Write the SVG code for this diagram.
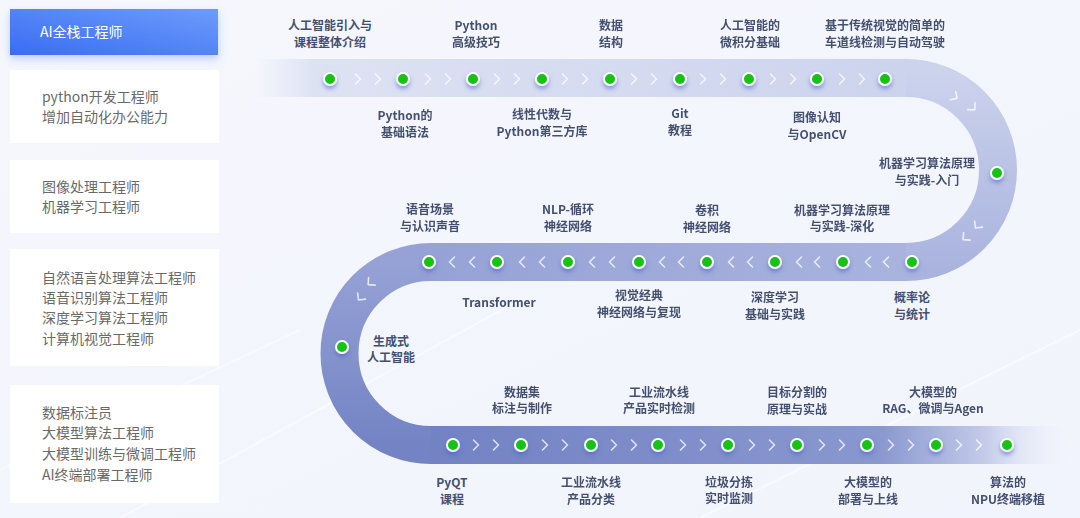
<svg xmlns="http://www.w3.org/2000/svg" width="1080" height="518" viewBox="0 0 1080 518">
<defs>
<style>
.card{fill:#ffffff;}
.ct{font-family:"Noto Sans CJK SC","Liberation Sans",sans-serif;font-size:14px;fill:#6a6a6a;}
.lb{font-family:"Noto Sans CJK SC","Liberation Sans",sans-serif;font-size:12px;font-weight:600;fill:#44506f;text-anchor:middle;}
.dot{fill:#14c214;stroke:#ffffff;stroke-width:2;filter:url(#dsh);}
.chev{fill:none;stroke:#ffffff;stroke-width:1.6;stroke-linecap:round;stroke-linejoin:round;opacity:0.75;}
.band{fill:none;stroke-width:38;}
</style>
<linearGradient id="bg" x1="0" y1="0" x2="1" y2="1">
<stop offset="0" stop-color="#f6f7fd"/><stop offset="1" stop-color="#f1f4fc"/>
</linearGradient>
<linearGradient id="gCard1" x1="0" y1="1" x2="1" y2="0">
<stop offset="0" stop-color="#3a6cf4"/><stop offset="1" stop-color="#6c9cfa"/>
</linearGradient>
<linearGradient id="gTop" gradientUnits="userSpaceOnUse" x1="255" y1="0" x2="906" y2="0">
<stop offset="0" stop-color="#dfe4f4" stop-opacity="0"/><stop offset="0.09" stop-color="#dde2f3"/><stop offset="1" stop-color="#ccd3ed"/>
</linearGradient>
<linearGradient id="gR" gradientUnits="userSpaceOnUse" x1="0" y1="70" x2="0" y2="270">
<stop offset="0" stop-color="#ccd3ed"/><stop offset="1" stop-color="#a9b3de"/>
</linearGradient>
<linearGradient id="gMid" gradientUnits="userSpaceOnUse" x1="906" y1="0" x2="431" y2="0">
<stop offset="0" stop-color="#a9b3de"/><stop offset="1" stop-color="#96a2d6"/>
</linearGradient>
<linearGradient id="gL" gradientUnits="userSpaceOnUse" x1="0" y1="262" x2="0" y2="445">
<stop offset="0" stop-color="#96a2d6"/><stop offset="1" stop-color="#7383c4"/>
</linearGradient>
<linearGradient id="gBot" gradientUnits="userSpaceOnUse" x1="431" y1="0" x2="1075" y2="0">
<stop offset="0" stop-color="#7282c3"/><stop offset="0.7" stop-color="#8a98d0"/><stop offset="0.86" stop-color="#c3cbea"/><stop offset="1" stop-color="#f4f6fc" stop-opacity="0"/>
</linearGradient>
<filter id="dsh" x="-100%" y="-100%" width="300%" height="300%">
<feDropShadow dx="0" dy="3" stdDeviation="2" flood-color="#4a5fc8" flood-opacity="0.55"/>
</filter>
<filter id="csh" x="-20%" y="-50%" width="140%" height="220%">
<feDropShadow dx="0" dy="4" stdDeviation="4" flood-color="#3a6cf4" flood-opacity="0.3"/>
</filter>
<path id="cv" d="M-2.5,-5 L2.5,0 L-2.5,5"/>
</defs>

<rect width="1080" height="518" fill="url(#bg)"/>
<g opacity="0.5" fill="none" stroke="#ffffff" stroke-width="2">
<path d="M0 470 L300 330"/>
<path d="M120 518 L520 300"/>
<path d="M700 518 L1080 330"/>
</g>

<g id="cards">
<g id="card1"><rect x="10" y="9" width="208" height="46" fill="url(#gCard1)" filter="url(#csh)"/><text x="40" y="37" style="font-family:'Noto Sans CJK SC','Liberation Sans',sans-serif;font-size:14px;fill:#ffffff;">AI全栈工程师</text></g>
<g id="card2"><rect class="card" x="10" y="70" width="209" height="73"/><text class="ct" x="42" y="102">python开发工程师</text><text class="ct" x="42" y="122">增加自动化办公能力</text></g>
<g id="card3"><rect class="card" x="10" y="160" width="209" height="73"/><text class="ct" x="42" y="192">图像处理工程师</text><text class="ct" x="42" y="212">机器学习工程师</text></g>
<g id="card4"><rect class="card" x="10" y="249" width="209" height="117"/><text class="ct" x="42" y="283">自然语言处理算法工程师</text><text class="ct" x="42" y="303">语音识别算法工程师</text><text class="ct" x="42" y="323">深度学习算法工程师</text><text class="ct" x="42" y="344">计算机视觉工程师</text></g>
<g id="card5"><rect class="card" x="10" y="385" width="209" height="118"/><text class="ct" x="42" y="418">数据标注员</text><text class="ct" x="42" y="438">大模型算法工程师</text><text class="ct" x="42" y="459">大模型训练与微调工程师</text><text class="ct" x="42" y="480">AI终端部署工程师</text></g>
</g>

<g id="connectors">
<path class="band" d="M255 78 H906" stroke="url(#gTop)"/>
<path class="band" d="M906 78 A92 92 0 0 1 906 262" stroke="url(#gR)"/>
<path class="band" d="M906 262 H431" stroke="url(#gMid)"/>
<path class="band" d="M431 262 A91.5 91.5 0 0 0 431 445" stroke="url(#gL)"/>
<path class="band" d="M431 445 H1075" stroke="url(#gBot)"/>
<g class="chev">
<use href="#cv" transform="translate(358,79)"/><use href="#cv" transform="translate(378,79)"/>
<use href="#cv" transform="translate(428,79)"/><use href="#cv" transform="translate(448,79)"/>
<use href="#cv" transform="translate(497,79)"/><use href="#cv" transform="translate(517,79)"/>
<use href="#cv" transform="translate(565,79)"/><use href="#cv" transform="translate(585,79)"/>
<use href="#cv" transform="translate(634,79)"/><use href="#cv" transform="translate(654,79)"/>
<use href="#cv" transform="translate(703,79)"/><use href="#cv" transform="translate(723,79)"/>
<use href="#cv" transform="translate(773,79)"/><use href="#cv" transform="translate(793,79)"/>
<use href="#cv" transform="translate(842,79)"/><use href="#cv" transform="translate(862,79)"/>
<use href="#cv" transform="translate(955,97) rotate(34)"/><use href="#cv" transform="translate(973,108) rotate(47)"/>
<use href="#cv" transform="translate(977,226) rotate(128)"/><use href="#cv" transform="translate(965,238) rotate(139)"/>
<use href="#cv" transform="translate(886,262) rotate(180)"/><use href="#cv" transform="translate(868,262) rotate(180)"/>
<use href="#cv" transform="translate(817,262) rotate(180)"/><use href="#cv" transform="translate(799,262) rotate(180)"/>
<use href="#cv" transform="translate(750,262) rotate(180)"/><use href="#cv" transform="translate(731,262) rotate(180)"/>
<use href="#cv" transform="translate(681,262) rotate(180)"/><use href="#cv" transform="translate(662,262) rotate(180)"/>
<use href="#cv" transform="translate(612,262) rotate(180)"/><use href="#cv" transform="translate(592,262) rotate(180)"/>
<use href="#cv" transform="translate(542,262) rotate(180)"/><use href="#cv" transform="translate(522,262) rotate(180)"/>
<use href="#cv" transform="translate(472,262) rotate(180)"/><use href="#cv" transform="translate(452,262) rotate(180)"/>
<use href="#cv" transform="translate(370,283) rotate(139)"/><use href="#cv" transform="translate(360,298) rotate(128)"/>
<use href="#cv" transform="translate(476,445)"/><use href="#cv" transform="translate(496,445)"/>
<use href="#cv" transform="translate(545,445)"/><use href="#cv" transform="translate(565,445)"/>
<use href="#cv" transform="translate(614,445)"/><use href="#cv" transform="translate(634,445)"/>
<use href="#cv" transform="translate(683,445)"/><use href="#cv" transform="translate(703,445)"/>
<use href="#cv" transform="translate(752,445)"/><use href="#cv" transform="translate(772,445)"/>
<use href="#cv" transform="translate(822,445)"/><use href="#cv" transform="translate(842,445)"/>
<use href="#cv" transform="translate(891,445)"/><use href="#cv" transform="translate(911,445)"/>
<use href="#cv" transform="translate(959,445)"/><use href="#cv" transform="translate(979,445)"/>
</g>
</g>

<g id="nodes">
<g id="n1"><circle class="dot" cx="330" cy="79" r="6"/><text class="lb" x="330" y="29.5">人工智能引入与</text><text class="lb" x="330" y="46.5">课程整体介绍</text></g>
<g id="n2"><circle class="dot" cx="403" cy="79" r="6"/><text class="lb" x="405" y="120">Python的</text><text class="lb" x="405" y="137">基础语法</text></g>
<g id="n3"><circle class="dot" cx="473" cy="79" r="6"/><text class="lb" x="476" y="29.5">Python</text><text class="lb" x="476" y="46.5">高级技巧</text></g>
<g id="n4"><circle class="dot" cx="542" cy="79" r="6"/><text class="lb" x="542" y="119">线性代数与</text><text class="lb" x="542" y="136">Python第三方库</text></g>
<g id="n5"><circle class="dot" cx="610" cy="79" r="6"/><text class="lb" x="611" y="29.5">数据</text><text class="lb" x="611" y="46.5">结构</text></g>
<g id="n6"><circle class="dot" cx="680" cy="79" r="6"/><text class="lb" x="680" y="118">Git</text><text class="lb" x="680" y="135">教程</text></g>
<g id="n7"><circle class="dot" cx="749" cy="79" r="6"/><text class="lb" x="750" y="29.5">人工智能的</text><text class="lb" x="750" y="46.5">微积分基础</text></g>
<g id="n8"><circle class="dot" cx="817" cy="79" r="6"/><text class="lb" x="817" y="121.5">图像认知</text><text class="lb" x="817" y="138.5">与OpenCV</text></g>
<g id="n9"><circle class="dot" cx="885" cy="79" r="6"/><text class="lb" x="885" y="30">基于传统视觉的简单的</text><text class="lb" x="885" y="47">车道线检测与自动驾驶</text></g>
<g id="n10"><circle class="dot" cx="997" cy="173" r="6"/><text class="lb" x="927" y="167.5">机器学习算法原理</text><text class="lb" x="927" y="184.5">与实践-入门</text></g>
<g id="n11"><circle class="dot" cx="912" cy="262" r="6"/><text class="lb" x="912" y="301.5">概率论</text><text class="lb" x="912" y="318.5">与统计</text></g>
<g id="n12"><circle class="dot" cx="843" cy="262" r="6"/><text class="lb" x="842" y="214.5">机器学习算法原理</text><text class="lb" x="842" y="231">与实践-深化</text></g>
<g id="n13"><circle class="dot" cx="775" cy="262" r="6"/><text class="lb" x="775" y="301.5">深度学习</text><text class="lb" x="775" y="318.5">基础与实践</text></g>
<g id="n14"><circle class="dot" cx="707" cy="262" r="6"/><text class="lb" x="707" y="215">卷积</text><text class="lb" x="707" y="231.5">神经网络</text></g>
<g id="n15"><circle class="dot" cx="639" cy="262" r="6"/><text class="lb" x="639" y="299.5">视觉经典</text><text class="lb" x="639" y="316.5">神经网络与复现</text></g>
<g id="n16"><circle class="dot" cx="568" cy="262" r="6"/><text class="lb" x="568" y="213.5">NLP-循环</text><text class="lb" x="568" y="230.5">神经网络</text></g>
<g id="n17"><circle class="dot" cx="497" cy="262" r="6"/><text class="lb" x="499" y="306.5">Transformer</text></g>
<g id="n18"><circle class="dot" cx="429" cy="262" r="6"/><text class="lb" x="430" y="213.5">语音场景</text><text class="lb" x="430" y="230.5">与认识声音</text></g>
<g id="n19"><circle class="dot" cx="342" cy="347" r="6"/><text class="lb" x="391" y="345.5">生成式</text><text class="lb" x="391" y="361.5">人工智能</text></g>
<g id="n20"><circle class="dot" cx="453" cy="445" r="6"/><text class="lb" x="452" y="487">PyQT</text><text class="lb" x="452" y="504">课程</text></g>
<g id="n21"><circle class="dot" cx="521" cy="445" r="6"/><text class="lb" x="522" y="396.5">数据集</text><text class="lb" x="522" y="413">标注与制作</text></g>
<g id="n22"><circle class="dot" cx="591" cy="445" r="6"/><text class="lb" x="591" y="486.5">工业流水线</text><text class="lb" x="591" y="503.5">产品分类</text></g>
<g id="n23"><circle class="dot" cx="658" cy="445" r="6"/><text class="lb" x="659" y="396.5">工业流水线</text><text class="lb" x="659" y="413">产品实时检测</text></g>
<g id="n24"><circle class="dot" cx="728" cy="445" r="6"/><text class="lb" x="729" y="486.5">垃圾分拣</text><text class="lb" x="729" y="503">实时监测</text></g>
<g id="n25"><circle class="dot" cx="797" cy="445" r="6"/><text class="lb" x="797" y="396.5">目标分割的</text><text class="lb" x="797" y="413.5">原理与实战</text></g>
<g id="n26"><circle class="dot" cx="867" cy="445" r="6"/><text class="lb" x="868" y="486.5">大模型的</text><text class="lb" x="868" y="503.5">部署与上线</text></g>
<g id="n27"><circle class="dot" cx="936" cy="445" r="6"/><text class="lb" x="933" y="396.5">大模型的</text><text class="lb" x="933" y="413">RAG、微调与Agen</text></g>
<g id="n28"><circle class="dot" cx="1007" cy="445" r="6"/><text class="lb" x="1008" y="486.5">算法的</text><text class="lb" x="1008" y="503.5">NPU终端移植</text></g>
</g>
</svg>
